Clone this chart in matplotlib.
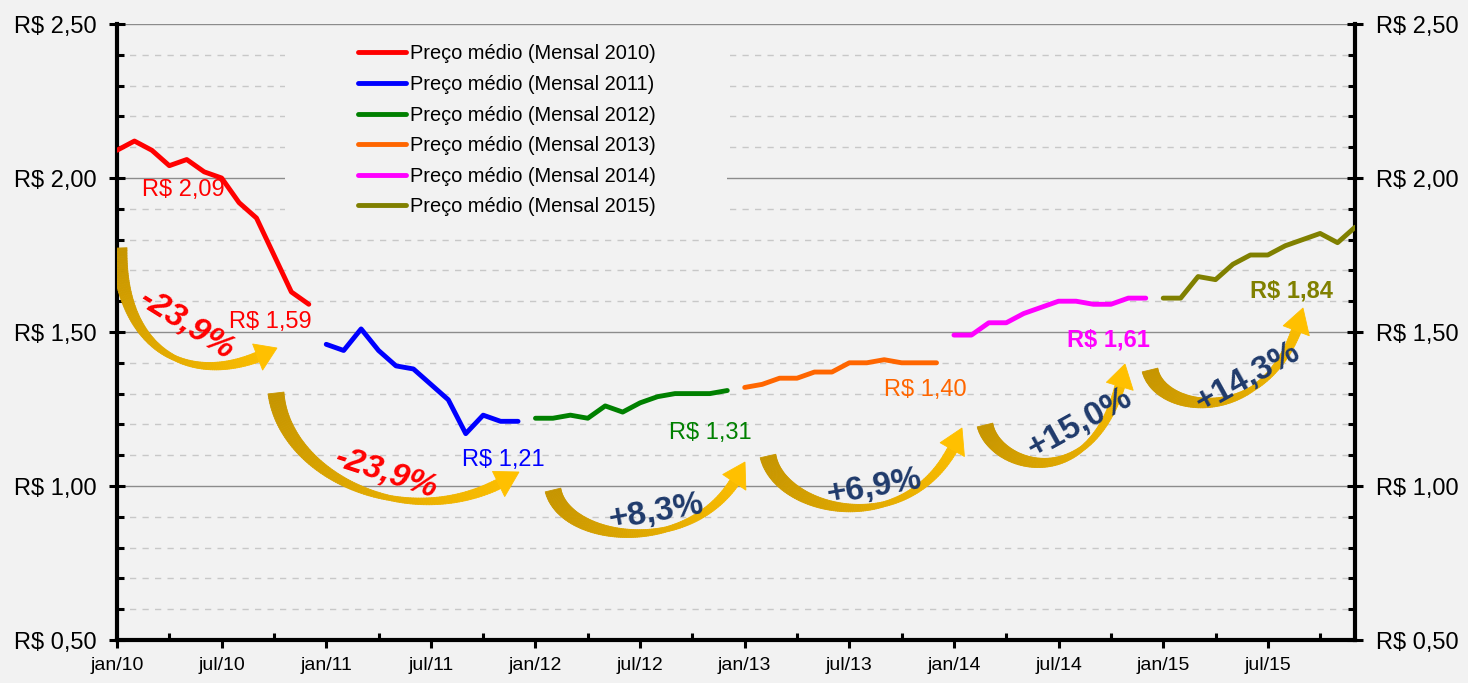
import numpy as np
import matplotlib.pyplot as plt
from matplotlib.collections import PolyCollection
from matplotlib.patches import Polygon, Rectangle
from matplotlib.ticker import MultipleLocator, FixedLocator, FuncFormatter
import matplotlib.colors as mcolors

plt.rcParams['font.family'] = ['Liberation Sans', 'DejaVu Sans']

# precos medios mensais (R$)
anos = [2010, 2011, 2012, 2013, 2014, 2015]
preco_2010 = [2.09, 2.12, 2.09, 2.04, 2.06, 2.02, 2.00, 1.92, 1.87, 1.75, 1.63, 1.59]
preco_2011 = [1.46, 1.44, 1.51, 1.44, 1.39, 1.38, 1.33, 1.28, 1.17, 1.23, 1.21, 1.21]
preco_2012 = [1.22, 1.22, 1.23, 1.22, 1.26, 1.24, 1.27, 1.29, 1.30, 1.30, 1.30, 1.31]
preco_2013 = [1.32, 1.33, 1.35, 1.35, 1.37, 1.37, 1.40, 1.40, 1.41, 1.40, 1.40, 1.40]
preco_2014 = [1.49, 1.49, 1.53, 1.53, 1.56, 1.58, 1.60, 1.60, 1.59, 1.59, 1.61, 1.61]
preco_2015 = [1.61, 1.61, 1.68, 1.67, 1.72, 1.75, 1.75, 1.78, 1.80, 1.82, 1.79, 1.84]
precos = [preco_2010, preco_2011, preco_2012, preco_2013, preco_2014, preco_2015]
cores = ['#ff0000', '#0000ff', '#008000', '#ff6600', '#ff00ff', '#808000']
variacoes = ['-23,9%', '-23,9%', '+8,3%', '+6,9%', '+15,0%', '+14,3%']
cores_variacao = ['#ff0000', '#ff0000', '#1f3a6b', '#1f3a6b', '#1f3a6b', '#1f3a6b']

W, H = 1468, 683
X0, X1, Y0, Y1 = 117, 1355, 24, 640  # area do grafico em pixels
XMAX = 71


def px(x, y):
    # pixel da imagem -> coordenada de dados
    x = np.asarray(x, float)
    y = np.asarray(y, float)
    return (x - X0) / (X1 - X0) * XMAX, 2.5 - (y - Y0) / (Y1 - Y0) * 2.0


def fmt_real(v):
    return 'R$ ' + f'{v:.2f}'.replace('.', ',')


fig = plt.figure(figsize=(W / 100, H / 100), dpi=100, facecolor='#f2f2f2')
ax = fig.add_axes([X0 / W, 1 - Y1 / H, (X1 - X0) / W, (Y1 - Y0) / H])
ax.set_facecolor('#f2f2f2')

for i, (ano, p) in enumerate(zip(anos, precos)):
    meses = np.arange(12) + 12 * i
    ax.plot(meses, p, color=cores[i], lw=3.5, solid_capstyle='round',
            label=f'Preço médio (Mensal {ano})', zorder=3)

ax.set_xlim(0, XMAX)
ax.set_ylim(0.5, 2.5)

# eixos
ax.yaxis.set_major_locator(MultipleLocator(0.5))
ax.yaxis.set_minor_locator(MultipleLocator(0.1))
ax.yaxis.set_major_formatter(FuncFormatter(lambda v, _: fmt_real(v)))
maj = list(range(0, 67, 6))
ax.xaxis.set_major_locator(FixedLocator(maj))
ax.xaxis.set_minor_locator(FixedLocator(list(range(3, 71, 6))))
ax.set_xticklabels([('jan' if m % 12 == 0 else 'jul') + f'/{10 + m // 12}' for m in maj])

ax.tick_params(axis='y', which='major', direction='inout', length=12, width=2.2,
               labelsize=17, left=True, right=True, labelleft=True, labelright=True, pad=9)
ax.tick_params(axis='y', which='minor', direction='in', length=5, width=2.2,
               left=True, right=True)
ax.tick_params(axis='x', which='major', direction='out', length=6, width=2.2,
               labelsize=14, pad=6)
ax.tick_params(axis='x', which='minor', direction='in', length=5, width=2.2)

for s in ['left', 'right', 'bottom']:
    ax.spines[s].set_linewidth(3)
ax.spines['top'].set_visible(False)

ax.set_axisbelow(True)
ax.yaxis.grid(True, which='major', color='#8c8c8c', lw=1)
ax.yaxis.grid(True, which='minor', color='#c8c8c8', lw=1, ls=(0, (4.5, 4.5)))

# fundo da legenda escondendo as linhas de grade
ax.add_patch(Rectangle((0.136, 0.674), 0.357, 0.31, transform=ax.transAxes,
                       facecolor='#f2f2f2', edgecolor='none', zorder=1))
ax.legend(loc='upper left', bbox_to_anchor=(0.195, 0.967), frameon=False, fontsize=14.4,
          handlelength=2.4, handletextpad=0.2, labelspacing=0.58, borderpad=0,
          borderaxespad=0)

# setas curvas (pontos de controle em pixels)
setas = [
    [(119, 248), (122, 360), (200, 390), (277, 348)],
    [(276, 393), (285, 480), (420, 540), (519, 472)],
    [(553, 490), (565, 545), (705, 560), (745, 462)],
    [(768, 456), (780, 515), (920, 545), (962, 428)],
    [(985, 425), (995, 470), (1100, 500), (1125, 364)],
    [(1150, 370), (1160, 415), (1275, 430), (1303, 308)],
]
c_ini = np.array(mcolors.to_rgb('#c69500'))
c_fim = np.array(mcolors.to_rgb('#ffc000'))


def seta(pontos):
    p0, p1, p2, p3 = [np.array(p, float) for p in pontos]
    t = np.linspace(0, 1, 120)[:, None]
    pts = (1 - t) ** 3 * p0 + 3 * (1 - t) ** 2 * t * p1 + 3 * (1 - t) * t ** 2 * p2 + t ** 3 * p3
    s = np.concatenate([[0], np.cumsum(np.hypot(*np.diff(pts, axis=0).T))])
    k = s <= s[-1] - 21
    haste = pts[k]
    tt = s[k] / s[-1]
    larg = np.interp(tt, [0, 0.55, 0.9], [16, 5, 10])
    d = np.gradient(haste, axis=0)
    d /= np.hypot(d[:, 0], d[:, 1])[:, None]
    nrm = np.column_stack([-d[:, 1], d[:, 0]])
    a = haste + nrm * larg[:, None] / 2
    b = haste - nrm * larg[:, None] / 2
    quads, cols = [], []
    for j in range(len(haste) - 1):
        q = np.array([a[j], a[j + 1], b[j + 1], b[j]])
        quads.append(np.column_stack(px(q[:, 0], q[:, 1])))
        f = tt[j]
        cols.append(c_ini * (1 - f) + c_fim * f)
    ax.add_collection(PolyCollection(quads, facecolors=cols, edgecolors=cols,
                                     linewidths=0.6, zorder=4))
    base = haste[-1]
    cab = np.array([base + nrm[-1] * 14, p3, base - nrm[-1] * 14])
    ax.add_patch(Polygon(np.column_stack(px(cab[:, 0], cab[:, 1])), closed=True,
                         facecolor=c_fim, edgecolor=c_fim, lw=0.6, zorder=4))


for sp in setas:
    seta(sp)

# textos das variacoes
pos_var = [(186, 325, -32), (386, 474, -18), (656, 512, 10),
           (874, 487, 10), (1080, 423, 29), (1248, 377, 29)]
for txt, cor, (x, y, r) in zip(variacoes, cores_variacao, pos_var):
    ax.text(*px(x, y), txt, color=cor, fontsize=24, fontweight='bold',
            style='italic' if cor == '#ff0000' else 'normal',
            rotation=r, rotation_mode='anchor', ha='center', va='center', zorder=6)

# rotulos de preco
rotulos = [
    (preco_2010[0], cores[0], (183, 190), 'normal'),
    (preco_2010[-1], cores[0], (270, 322), 'normal'),
    (preco_2011[-1], cores[1], (503, 460), 'normal'),
    (preco_2012[-1], cores[2], (710, 433), 'normal'),
    (preco_2013[-1], cores[3], (925, 390), 'normal'),
    (preco_2014[-1], cores[4], (1108, 340), 'bold'),
    (preco_2015[-1], cores[5], (1291, 291), 'bold'),
]
for v, cor, (x, y), peso in rotulos:
    ax.text(*px(x, y), fmt_real(v), color=cor, fontsize=17, fontweight=peso,
            ha='center', va='center', zorder=6)

fig.savefig('out.png', dpi=100, facecolor=fig.get_facecolor())
